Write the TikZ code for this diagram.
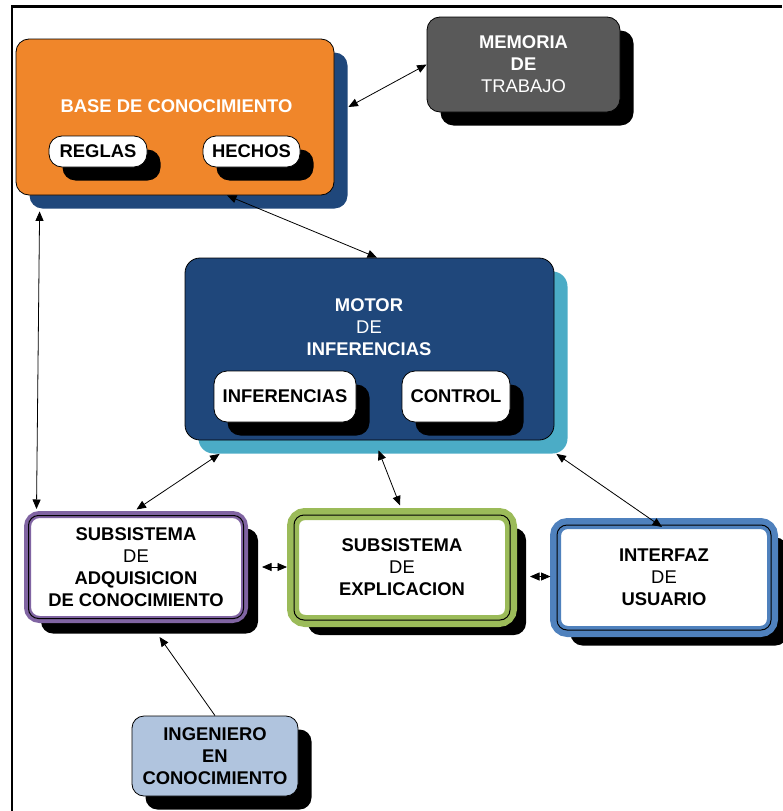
\documentclass[tikz,border=0pt]{standalone}
\usepackage{fontspec}
\setmainfont{Liberation Sans}
\usetikzlibrary{arrows.meta,shadows,calc}

\definecolor{kbOrange}{HTML}{F0862A}
\definecolor{kbNavy}{HTML}{1F477B}
\definecolor{kbTeal}{HTML}{4BACC6}
\definecolor{kbGray}{HTML}{595959}
\definecolor{kbPurple}{HTML}{8064A2}
\definecolor{kbGreen}{HTML}{9BBB59}
\definecolor{kbBlue}{HTML}{4F81BD}
\definecolor{kbSteel}{HTML}{B0C4DE}

\begin{document}
\begin{tikzpicture}[x=1pt,y=-1pt,
  txt/.style={font=\fontsize{18.4}{22}\selectfont\bfseries, align=center},
  castshadow/.style={drop shadow={shadow xshift=13.5pt, shadow yshift=-13.5pt, opacity=1, fill=#1}},
  castshadow/.default=black,
  panel/.style={draw=black, line width=0.8pt, inner sep=0pt, rounded corners=13pt, txt},
  pill/.style={panel, fill=white, castshadow},
  ring/.style args={#1/#2}{draw=#1, line width=#2, fill=white, rounded corners=12pt, inner sep=0pt, txt},
  ringline/.style={draw=black, line width=1pt, rounded corners=10pt, inner sep=0pt},
  conn/.style={line width=0.8pt, {Triangle[length=9.5pt,width=8pt]}-{Triangle[length=9.5pt,width=8pt]}},
  feed/.style={line width=0.8pt, -{Triangle[length=9.5pt,width=8pt]}},
]
\useasboundingbox (0,0) rectangle (782,811);

% page frame (top and left rules)
\draw[line width=2.3pt] (12,811) -- (12,6.5) -- (782,6.5);

% knowledge base with its two parts
\node[panel, fill=kbOrange, castshadow=kbNavy, minimum width=318pt, minimum height=156pt] (base) at (175,117) {};
\node[txt, text=white] (baseTitle) at (176.5,106.5) {BASE DE CONOCIMIENTO};
\node[pill, minimum width=98pt, minimum height=31pt] (reglas) at (98,151.5) {REGLAS};
\node[pill, minimum width=97pt, minimum height=31pt] (hechos) at (251.5,151.5) {HECHOS};

% working memory
\node[panel, fill=kbGray, text=white, castshadow, minimum width=193pt, minimum height=95pt] (memo) at (523.5,64.5)
  {MEMORIA\\DE\\{\mdseries TRABAJO}};

% inference engine
\node[panel, fill=kbNavy, castshadow=kbTeal, rounded corners=15pt, minimum width=369pt, minimum height=182pt] (motor) at (369.5,349) {};
\node[txt, text=white] (motorTitle) at (369,327.5) {MOTOR\\{\mdseries DE}\\INFERENCIAS};
\node[pill, minimum width=142pt, minimum height=51pt] (infer) at (285,396.5) {INFERENCIAS};
\node[pill, minimum width=108pt, minimum height=51pt] (control) at (456,396.5) {CONTROL};

% subsystems with double borders
\node[ring=kbPurple/7pt, drop shadow={shadow xshift=13.5pt, shadow yshift=-14pt, opacity=1, fill=black},
      minimum width=217pt, minimum height=105pt] (adq) at (136,567)
  {SUBSISTEMA\\{\mdseries DE}\\ADQUISICION\\DE CONOCIMIENTO};
\node[ringline, minimum width=215pt, minimum height=103pt] (adqLine) at (adq) {};

\node[ring=kbGreen/12pt, drop shadow={shadow xshift=15pt, shadow yshift=-14pt, opacity=1, fill=black},
      minimum width=218pt, minimum height=107pt] (expl) at (402,567.5)
  {SUBSISTEMA\\{\mdseries DE}\\EXPLICACION};
\node[ringline, minimum width=216pt, minimum height=105pt] (explLine) at (expl) {};

\node[ring=kbBlue/11pt, drop shadow={shadow xshift=15pt, shadow yshift=-14pt, opacity=1, fill=black},
      minimum width=217pt, minimum height=108pt] (intf) at (664,577.5)
  {INTERFAZ\\{\mdseries DE}\\USUARIO};
\node[ringline, minimum width=214pt, minimum height=105pt] (intfLine) at (intf) {};

% knowledge engineer
\node[panel, fill=kbSteel, castshadow, rounded corners=12pt, minimum width=166pt, minimum height=80pt] (ing) at (215,756)
  {INGENIERO\\EN\\CONOCIMIENTO};

% connectors
\draw[conn] ($(base.east)+(14,-10)$) -- (memo.west);
\draw[conn] ($(base.south)+(52,0)$) -- ($(motor.north)+(7.5,0)$);
\draw[conn] ($(base.south west)+(24,16)$) -- ($(adq.north west)+(12.5,-2)$);
\draw[conn] ($(motor.south west)+(35,13.5)$) -- ($(adq.north)+(0.5,-1.5)$);
\draw[conn] ($(motor.south)+(9,10)$) -- ($(expl.north)+(-2,-2.5)$);
\draw[conn] ($(motor.south east)+(2,13.5)$) -- ($(intf.north)+(-2,9)$);
\draw[conn] ($(adq.east)+(14,0)$) -- ($(expl.west)+(0,-0.5)$);
\draw[conn] ($(expl.east)+(13,9)$) -- ($(intf.west)+(0.5,-1)$);
\draw[feed] (ing.north) -- ($(adq.south)+(23.5,14)$);
\end{tikzpicture}
\end{document}
